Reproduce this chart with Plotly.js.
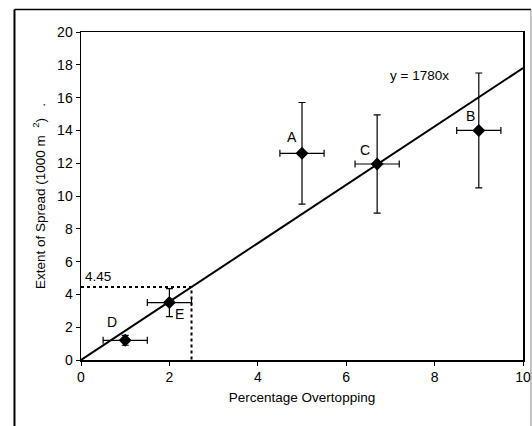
<!DOCTYPE html>
<html>
<head>
<meta charset="utf-8">
<script src="https://cdn.plot.ly/plotly-3.0.1.min.js"></script>
<style>html,body{margin:0;padding:0;background:#fff;}#chart{width:532px;height:426px;}</style>
</head>
<body>
<div id="chart"></div>
<script>
// Data
var labels = ["A", "B", "C", "D", "E"];
var xVals = [5.0, 9.0, 6.7, 1.0, 2.0];
var yVals = [12.6, 14.0, 11.95, 1.2, 3.5];
var xErr = [0.5, 0.5, 0.5, 0.5, 0.5];
var yErr = [3.1, 3.5, 3.0, 0.3, 0.85];
var fitSlope = 1.78;
var fitX = [0, 10];
var refX = 2.5;
var refY = 4.45;
var labelX = [4.78, 8.82, 6.43, 0.71, 2.23];
var labelY = [13.6, 14.87, 12.8, 2.3, 2.79];
var xTicks = [0, 2, 4, 6, 8, 10];
var yTicks = [0, 2, 4, 6, 8, 10, 12, 14, 16, 18, 20];

var fitY = fitX.map(function (x) { return fitSlope * x; });
var font = "Liberation Sans, Arial, sans-serif";

var traces = [
  {
    x: fitX, y: fitY, mode: "lines", type: "scatter",
    line: {color: "#000", width: 2}, hoverinfo: "skip", showlegend: false
  },
  {
    x: [0, refX, refX], y: [refY, refY, 0], mode: "lines", type: "scatter",
    line: {color: "#000", width: 2, dash: "dot"}, hoverinfo: "skip", showlegend: false
  },
  {
    x: xVals, y: yVals, mode: "markers", type: "scatter",
    marker: {symbol: "diamond", size: 10, color: "#000"},
    error_x: {type: "data", array: xErr, visible: true, color: "#000", thickness: 1.2, width: 3.5},
    error_y: {type: "data", array: yErr, visible: true, color: "#000", thickness: 1.2, width: 3.5},
    showlegend: false
  }
];

var annotations = labels.map(function (t, i) {
  return {x: labelX[i], y: labelY[i], xref: "x", yref: "y", text: t, showarrow: false,
          font: {family: font, size: 14, color: "#000"}};
});
annotations.push({x: 0.38, y: 5.09, xref: "x", yref: "y", text: String(refY), showarrow: false,
                  font: {family: font, size: 13.5, color: "#000"}});
annotations.push({x: 7.65, y: 17.33, xref: "x", yref: "y", text: "y = 1780x", showarrow: false,
                  font: {family: font, size: 13.5, color: "#000"}});

var layout = {
  width: 532, height: 426,
  margin: {l: 81, r: 9, t: 32, b: 66},
  paper_bgcolor: "#fff", plot_bgcolor: "#fff",
  font: {family: font, size: 13.5, color: "#000"},
  showlegend: false,
  xaxis: {
    range: [0, 10], tickvals: xTicks, ticktext: xTicks.map(String),
    showgrid: false, zeroline: false, showline: true, linecolor: "#000", linewidth: 1.5, mirror: true,
    ticks: "outside", ticklen: 4, tickcolor: "#000", tickwidth: 1,
    tickfont: {family: font, size: 14, color: "#000"},
    title: {text: "Percentage Overtopping", font: {family: font, size: 13.5, color: "#000"}, standoff: 8}
  },
  yaxis: {
    range: [0, 20], tickvals: yTicks, ticktext: yTicks.map(String),
    showgrid: false, zeroline: false, showline: true, linecolor: "#000", linewidth: 1.5, mirror: true,
    ticks: "outside", ticklen: 4, tickcolor: "#000", tickwidth: 1,
    tickfont: {family: font, size: 14, color: "#000"},
    title: {text: "Extent of Spread (1000 m&nbsp;&nbsp;<sup>2</sup>)&nbsp;&nbsp;&nbsp;.", font: {family: font, size: 13.5, color: "#000"}, standoff: 8}
  },
  annotations: annotations,
  shapes: [
    {type: "line", xref: "paper", yref: "paper", x0: -0.1505, x1: -0.1505, y0: 1.0686, y1: -0.25,
     line: {color: "#000", width: 2}},
    {type: "line", xref: "paper", yref: "paper", x0: -0.1505, x1: 1.018, y0: 1.0686, y1: 1.0686,
     line: {color: "#000", width: 1.5}},
    {type: "line", xref: "paper", yref: "paper", x0: 1.018, x1: 1.018, y0: 1.0686, y1: -0.25,
     line: {color: "#888", width: 1}}
  ]
};

Plotly.newPlot("chart", traces, layout, {displayModeBar: false, staticPlot: true});
</script>
</body>
</html>
